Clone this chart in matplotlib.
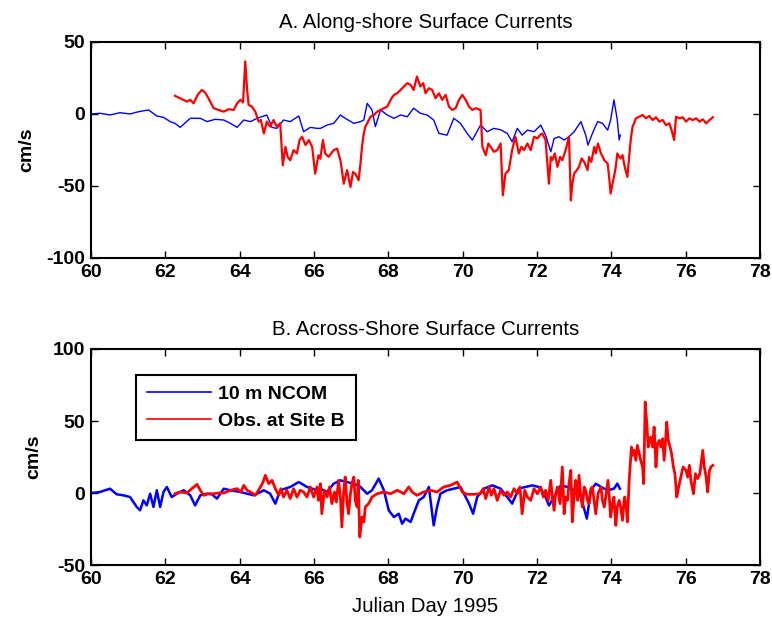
import matplotlib
matplotlib.use("Agg")
import matplotlib.pyplot as plt

# ---------------- data ----------------
# Panel A: along-shore, 10 m NCOM (blue)
a_ncom_day = [60.02, 60.24, 60.51, 60.78, 61.05, 61.28, 61.55, 61.77, 61.95, 62.13, 62.26, 62.40,
              62.67, 62.94, 63.12, 63.34, 63.57, 63.75, 63.93, 64.11, 64.29, 64.47, 64.73, 64.87,
              65.00, 65.18, 65.36, 65.59, 65.72, 65.90, 66.08, 66.17, 66.35, 66.53, 66.71, 66.84,
              67.07, 67.25, 67.34, 67.43, 67.56, 67.65, 67.79, 67.97, 68.15, 68.33, 68.51, 68.68,
              68.86, 69.04, 69.22, 69.36, 69.58, 69.76, 69.94, 70.12, 70.26, 70.48, 70.66, 70.84,
              71.02, 71.20, 71.33, 71.47, 71.60, 71.74, 71.92, 72.10, 72.23, 72.37, 72.46, 72.59,
              72.73, 72.86, 73.00, 73.18, 73.31, 73.37, 73.49, 73.63, 73.76, 73.90, 73.98, 74.07,
              74.16, 74.21, 74.24]
a_ncom_val = [0.0, 0.5, -0.7, 0.9, 0.0, 1.6, 2.8, -1.4, -2.3, -5.3, -6.5, -9.3,
              -3.0, -3.0, -5.3, -3.7, -4.2, -6.5, -9.3, -4.2, -5.3, -3.0, -0.7, -9.3,
              -10.0, -4.2, -5.3, -1.4, -12.3, -9.3, -10.0, -10.0, -7.7, -6.5, -0.7, -3.0,
              -6.5, -5.3, -4.2, 7.4, 2.8, -8.8, 2.8, -0.7, -3.0, -0.7, -1.9, 4.0,
              0.5, -0.7, -4.2, -13.5, -14.7, -3.0, -6.5, -13.5, -18.1, -7.7, -12.3, -10.0,
              -11.0, -13.5, -19.3, -10.0, -14.7, -11.2, -12.3, -7.7, -14.7, -26.3, -17.0, -15.8,
              -18.1, -15.8, -12.3, -5.3, -14.7, -21.6, -13.5, -5.3, -6.5, -11.2, -4.2, 9.8,
              -4.2, -18.1, -14.7]

# Panel A: along-shore, observations at Site B (red)
a_obs_day = [62.26, 62.40, 62.58, 62.67, 62.76, 62.87, 62.98, 63.07, 63.16, 63.30, 63.43, 63.57,
             63.70, 63.84, 63.93, 64.02, 64.09, 64.15, 64.20, 64.24, 64.33, 64.42, 64.51, 64.57,
             64.65, 64.73, 64.82, 64.91, 65.00, 65.09, 65.16, 65.23, 65.29, 65.36, 65.45, 65.54,
             65.61, 65.68, 65.77, 65.86, 65.95, 66.03, 66.12, 66.17, 66.24, 66.30, 66.39, 66.53,
             66.62, 66.71, 66.75, 66.80, 66.89, 66.98, 67.05, 67.11, 67.20, 67.25, 67.29, 67.34,
             67.38, 67.43, 67.52, 67.61, 67.70, 67.79, 67.88, 67.97, 68.06, 68.15, 68.24, 68.33,
             68.42, 68.51, 68.60, 68.68, 68.77, 68.86, 68.94, 69.00, 69.09, 69.18, 69.27, 69.36,
             69.45, 69.54, 69.63, 69.72, 69.81, 69.90, 69.99, 70.08, 70.17, 70.26, 70.35, 70.48,
             70.53, 70.62, 70.69, 70.75, 70.84, 70.93, 71.02, 71.08, 71.15, 71.24, 71.33, 71.42,
             71.51, 71.58, 71.65, 71.74, 71.83, 71.92, 72.01, 72.08, 72.14, 72.23, 72.32, 72.37,
             72.41, 72.48, 72.55, 72.62, 72.68, 72.77, 72.86, 72.91, 72.95, 73.00, 73.07, 73.13,
             73.20, 73.27, 73.36, 73.40, 73.46, 73.54, 73.58, 73.64, 73.72, 73.81, 73.90, 73.94,
             73.98, 74.03, 74.07, 74.12, 74.16, 74.24, 74.30, 74.36, 74.43, 74.48, 74.52, 74.57,
             74.61, 74.66, 74.75, 74.84, 74.93, 75.02, 75.11, 75.20, 75.29, 75.38, 75.47, 75.56,
             75.62, 75.69, 75.74, 75.83, 75.92, 76.01, 76.10, 76.19, 76.28, 76.37, 76.46, 76.55,
             76.64, 76.73]
a_obs_val = [12.6, 10.9, 8.6, 9.8, 7.4, 13.3, 16.7, 14.9, 10.9, 4.0, 2.8, 1.6,
             3.3, 2.8, 7.4, 9.8, 7.9, 36.5, 16.7, 6.3, 5.1, 1.6, -5.3, -4.2,
             -13.5, -5.3, -8.8, -4.2, -8.8, -6.5, -35.6, -22.8, -29.8, -32.1, -25.1, -27.4,
             -18.1, -15.8, -21.6, -18.1, -22.8, -41.4, -28.6, -31.0, -18.1, -27.4, -29.8, -25.1,
             -24.0, -32.1, -39.0, -48.4, -39.0, -50.7, -40.2, -41.4, -46.0, -34.4, -22.8, -13.5,
             -8.8, -6.5, -1.9, -0.7, 1.6, 2.8, 4.0, 5.1, 9.8, 13.3, 14.4, 16.7,
             19.1, 21.4, 20.2, 16.7, 26.0, 19.1, 21.4, 14.4, 17.9, 16.7, 10.9, 14.4,
             9.8, 13.3, 5.1, 2.8, 4.0, 9.8, 13.3, 9.8, 5.1, 2.8, 4.0, 2.8,
             -22.8, -28.6, -20.5, -22.8, -26.3, -25.1, -20.5, -56.5, -41.4, -39.0, -25.1, -15.8,
             -27.4, -22.8, -25.1, -20.5, -25.1, -15.8, -17.0, -14.7, -13.5, -18.1, -48.4, -29.8,
             -32.1, -27.4, -36.7, -29.8, -32.1, -25.1, -15.8, -60.0, -48.4, -41.4, -39.0, -36.7,
             -30.9, -33.3, -39.0, -29.8, -33.3, -22.8, -27.4, -20.5, -27.4, -32.1, -34.4, -43.7,
             -55.3, -48.4, -43.7, -36.7, -27.4, -30.9, -28.6, -36.7, -43.7, -29.8, -18.1, -8.8,
             -6.5, -3.0, -1.9, -0.7, -3.0, -1.4, -4.2, -2.3, -5.3, -4.2, -7.7, -6.5,
             -11.2, -18.1, -1.9, -3.0, -2.3, -5.3, -3.0, -4.2, -3.0, -5.3, -3.7, -6.5,
             -4.2, -2.3]

# Panel B: across-shore, 10 m NCOM (blue)
b_ncom_day = [60.02, 60.24, 60.51, 60.69, 60.87, 61.05, 61.23, 61.32, 61.41, 61.50, 61.59, 61.68,
              61.77, 61.86, 61.95, 62.04, 62.17, 62.31, 62.49, 62.67, 62.80, 62.94, 63.12, 63.25,
              63.39, 63.57, 63.75, 64.02, 64.20, 64.38, 64.65, 64.82, 64.96, 65.09, 65.36, 65.59,
              65.81, 66.08, 66.17, 66.35, 66.53, 66.71, 66.89, 67.07, 67.25, 67.43, 67.56, 67.74,
              67.88, 68.01, 68.15, 68.28, 68.37, 68.46, 68.60, 68.68, 68.82, 68.95, 69.09, 69.18,
              69.22, 69.31, 69.40, 69.58, 69.76, 69.94, 70.08, 70.17, 70.28, 70.39, 70.57, 70.80,
              71.02, 71.20, 71.33, 71.51, 71.69, 71.87, 72.05, 72.19, 72.32, 72.46, 72.64, 72.82,
              73.00, 73.18, 73.34, 73.45, 73.58, 73.72, 73.90, 74.07, 74.16, 74.23]
b_ncom_val = [0.0, 0.7, 3.0, -0.9, -1.6, -2.8, -9.7, -12.0, -5.1, -8.6, -0.5, -9.7,
              1.9, -9.7, 0.7, 4.2, -2.8, -0.5, 1.9, -1.6, -8.6, -1.6, -0.5, -0.9,
              -3.9, 3.0, 1.9, 0.7, -0.5, -1.6, 1.9, -0.5, -7.4, 1.9, 4.2, 7.6,
              4.2, 1.9, 3.0, 0.7, 6.5, 8.8, 7.6, 6.5, 4.2, -0.5, 1.9, 10.0,
              1.9, -12.0, -16.7, -14.4, -21.3, -17.8, -20.1, -14.4, -5.1, -2.8, 4.2, -14.4,
              -22.5, -9.7, -0.5, 1.9, 3.0, 4.2, -2.8, -7.4, -14.4, -2.8, 3.0, 5.3,
              3.0, -2.8, -7.4, 3.0, 4.2, 5.3, 4.2, -0.5, -8.6, -2.8, 5.3, 4.2,
              1.9, -2.8, -17.8, 1.9, 6.5, 4.2, 1.9, 3.0, 6.5, 3.0]

# Panel B: across-shore, observations at Site B (red)
b_obs_day = [62.26, 62.40, 62.58, 62.71, 62.85, 62.94, 63.03, 63.16, 63.30, 63.43, 63.57, 63.75,
             63.93, 64.03, 64.11, 64.20, 64.29, 64.42, 64.56, 64.63, 64.69, 64.78, 64.87, 64.96,
             65.05, 65.11, 65.18, 65.27, 65.36, 65.45, 65.54, 65.63, 65.72, 65.81, 65.90, 65.99,
             66.08, 66.12, 66.17, 66.21, 66.28, 66.35, 66.42, 66.48, 66.55, 66.60, 66.66, 66.71,
             66.75, 66.80, 66.84, 66.89, 66.93, 66.98, 67.02, 67.07, 67.11, 67.16, 67.19, 67.23,
             67.29, 67.34, 67.38, 67.47, 67.56, 67.70, 67.88, 68.06, 68.24, 68.42, 68.55, 68.64,
             68.77, 68.95, 69.13, 69.31, 69.49, 69.67, 69.85, 69.99, 70.12, 70.30, 70.48, 70.55,
             70.62, 70.71, 70.77, 70.84, 70.93, 71.02, 71.11, 71.20, 71.29, 71.38, 71.47, 71.54,
             71.60, 71.67, 71.74, 71.83, 71.92, 72.01, 72.10, 72.17, 72.23, 72.30, 72.37, 72.41,
             72.46, 72.50, 72.55, 72.62, 72.68, 72.73, 72.77, 72.82, 72.86, 72.91, 72.95, 73.00,
             73.04, 73.09, 73.13, 73.18, 73.22, 73.27, 73.31, 73.36, 73.40, 73.45, 73.49, 73.54,
             73.58, 73.64, 73.72, 73.76, 73.81, 73.86, 73.91, 73.95, 73.98, 74.03, 74.07, 74.12,
             74.16, 74.21, 74.25, 74.30, 74.34, 74.36, 74.40, 74.43, 74.48, 74.54, 74.58, 74.61,
             74.66, 74.70, 74.75, 74.79, 74.84, 74.87, 74.91, 74.96, 74.99, 75.03, 75.06, 75.11,
             75.15, 75.20, 75.24, 75.29, 75.33, 75.38, 75.42, 75.46, 75.49, 75.53, 75.58, 75.62,
             75.67, 75.71, 75.76, 75.81, 75.87, 75.93, 76.01, 76.05, 76.10, 76.14, 76.21, 76.26,
             76.32, 76.38, 76.46, 76.50, 76.55, 76.59, 76.64, 76.68, 76.73]
b_obs_val = [-0.5, 0.7, 0.0, 3.0, 6.0, 1.9, -1.6, -0.5, -0.5, 0.0, 0.0, 1.9,
             3.0, 0.7, 5.3, 1.9, 0.7, -1.6, 4.2, 7.6, 12.3, 6.5, 8.8, 3.0,
             -1.6, 3.0, -2.8, 1.9, -3.9, 3.0, -2.8, 1.9, 0.7, -2.8, 4.2, -2.8,
             4.2, -5.1, 6.5, -14.4, 1.9, -2.8, 4.2, -7.4, 0.7, -6.3, 8.8, -2.8,
             -23.6, 1.9, 11.1, -7.4, -14.4, -0.5, 6.5, 11.1, -5.1, -9.7, 8.8, -30.6,
             -16.7, -20.1, -9.7, -7.4, -2.8, -0.5, 0.7, -0.5, 1.9, -0.5, 4.2, 0.7,
             -1.6, 0.7, 1.9, 0.7, 4.2, 5.3, 7.6, 0.7, -0.9, -0.9, -0.5, 3.0,
             -3.9, 4.2, -1.6, 3.0, -5.1, 1.9, -1.6, 0.7, -2.8, 3.0, -0.5, 4.2,
             -14.4, 1.9, -2.8, -5.1, 3.0, -0.5, 4.2, -2.8, 1.9, -5.1, 8.8, -2.8,
             -12.0, -0.5, 4.2, -7.4, 18.1, -14.4, -2.8, -5.1, 6.5, 15.7, -20.1, -0.5,
             8.8, -5.1, 12.3, -2.8, -9.7, 4.2, 1.9, -5.1, -7.4, 3.0, 4.2, -6.3,
             -14.4, -0.5, 4.2, -5.1, -9.7, -0.5, 8.8, -5.1, -16.7, -7.4, -2.8, -22.5,
             -9.7, -5.1, -9.7, -19.0, -5.1, -2.8, -9.7, -20.1, 8.8, 31.9, 26.2, 29.6,
             22.7, 33.1, 27.3, 22.7, 18.1, 6.5, 63.2, 45.8, 31.9, 36.6, 38.9, 31.9,
             45.8, 18.1, 34.3, 36.6, 31.9, 37.7, 22.7, 36.6, 49.3, 36.6, 31.9, 27.3,
             18.1, 13.4, -2.8, 4.2, 11.1, 18.1, 15.7, 11.1, 19.2, 8.8, -0.5, 13.4,
             10.0, 13.4, 29.6, 18.1, 11.1, 0.7, 15.7, 18.1, 19.2]

x_ticks = [60, 62, 64, 66, 68, 70, 72, 74, 76, 78]
a_yticks = [-100, -50, 0, 50]
b_yticks = [-50, 0, 50, 100]

# ---------------- plotting ----------------
plt.rcParams['font.family'] = ['Liberation Sans', 'DejaVu Sans']
plt.rcParams['axes.unicode_minus'] = False
FS = 14
TFS = 14.7

fig = plt.figure(figsize=(7.72, 6.20), dpi=100)
axA = fig.add_axes([0.1179, 0.5839, 0.8666, 0.3484])
axB = fig.add_axes([0.1179, 0.0887, 0.8666, 0.3484])

axA.plot(a_ncom_day, a_ncom_val, color=(0, 0, 1), lw=1.0)
axA.plot(a_obs_day, a_obs_val, color=(1, 0, 0), lw=1.6)
axB.plot(b_ncom_day, b_ncom_val, color=(0, 0, 1), lw=1.8, label='10 m NCOM')
axB.plot(b_obs_day, b_obs_val, color=(1, 0, 0), lw=2.0, label='Obs. at Site B')

for ax, yt in ((axA, a_yticks), (axB, b_yticks)):
    ax.set_xlim(60, 78)
    ax.set_ylim(yt[0], yt[-1])
    ax.set_xticks(x_ticks)
    ax.set_yticks(yt)
    ax.tick_params(direction='in', top=True, right=True, length=5, width=1.0,
                   labelsize=FS, pad=4)
    for lab in ax.get_xticklabels() + ax.get_yticklabels():
        lab.set_fontweight('bold')
    for sp in ax.spines.values():
        sp.set_linewidth(1.5)
    ax.set_ylabel('cm/s', fontsize=FS, fontweight='bold', labelpad=8)

axA.set_title('A. Along-shore Surface Currents', fontsize=TFS, pad=10)
axB.set_title('B. Across-Shore Surface Currents', fontsize=TFS, pad=10)
axB.set_xlabel('Julian Day 1995', fontsize=TFS, labelpad=7)

leg = axB.legend(loc='upper left', bbox_to_anchor=(0.067, 0.88), borderaxespad=0,
                 fancybox=False, edgecolor='black', framealpha=1,
                 prop={'size': FS, 'weight': 'bold'}, handlelength=3.3,
                 handletextpad=0.4, labelspacing=0.45, borderpad=0.55)
leg.get_frame().set_linewidth(1.5)
for ln in leg.get_lines():
    ln.set_linewidth(1.2)

fig.savefig('out.png', dpi=100)
